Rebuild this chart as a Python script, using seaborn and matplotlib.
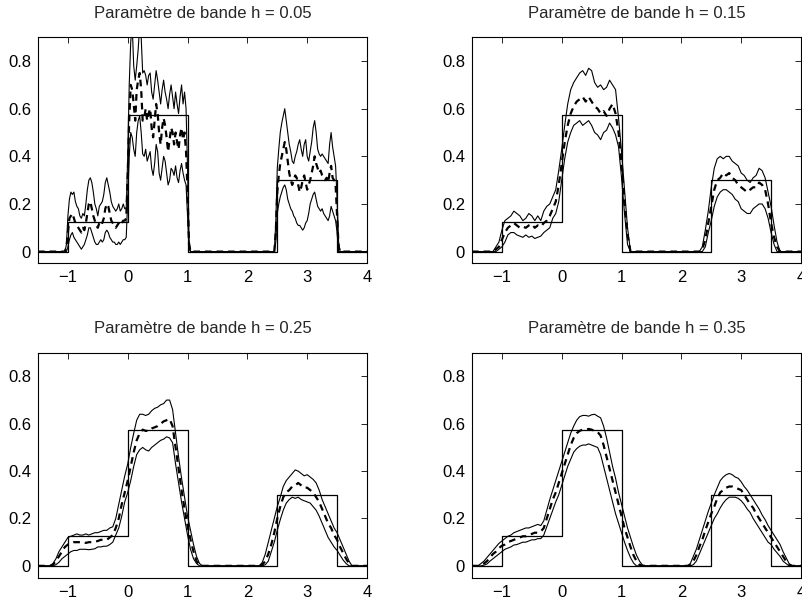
import numpy as np
import matplotlib
matplotlib.use("Agg")
import matplotlib.pyplot as plt
import seaborn as sns

# ---------------------------------------------------------------
# True density (piecewise constant)
# ---------------------------------------------------------------
edges = [-1.5, -1.0, 0.0, 1.0, 2.5, 3.5, 4.0]
levels = [0.0, 0.125, 0.575, 0.0, 0.3, 0.0]

bandwidths = [0.05, 0.15, 0.25, 0.35]
x_ticks = [-1, 0, 1, 2, 3, 4]
y_ticks = [0, 0.2, 0.4, 0.6, 0.8]
y_tick_labels = ["0", "0.2", "0.4", "0.6", "0.8"]

# ---------------------------------------------------------------
# Kernel estimates: centre curve (est), upper / lower bands (up / lo)
# on two support segments a and b, each sampled on a regular grid.
# ---------------------------------------------------------------
# h = 0.05  (grid step 0.025)
start_005_a, start_005_b, step_005 = -1.05, 2.45, 0.025
est_005_a = [0, 0.02, 0.08, 0.14, 0.15, 0.16, 0.14, 0.12, 0.11, 0.10,
             0.09, 0.08, 0.10, 0.09, 0.12, 0.16, 0.20, 0.21, 0.18, 0.15,
             0.13, 0.11, 0.10, 0.12, 0.13, 0.12, 0.14, 0.18, 0.20, 0.19,
             0.16, 0.13, 0.12, 0.11, 0.10, 0.11, 0.12, 0.11, 0.12, 0.13,
             0.13, 0.14, 0.32, 0.55, 0.70, 0.68, 0.62, 0.55, 0.68, 0.72,
             0.75, 0.68, 0.55, 0.56, 0.60, 0.55, 0.58, 0.60, 0.52, 0.48,
             0.55, 0.62, 0.58, 0.50, 0.45, 0.52, 0.56, 0.53, 0.48, 0.42,
             0.47, 0.52, 0.50, 0.45, 0.50, 0.46, 0.43, 0.49, 0.52, 0.47,
             0.50, 0.42, 0.25, 0.03, 0]
up_005_a = [0, 0.03, 0.15, 0.22, 0.25, 0.24, 0.25, 0.21, 0.19, 0.18,
            0.15, 0.14, 0.16, 0.15, 0.20, 0.26, 0.30, 0.31, 0.29, 0.25,
            0.20, 0.18, 0.15, 0.19, 0.20, 0.21, 0.24, 0.29, 0.31, 0.28,
            0.25, 0.21, 0.19, 0.18, 0.17, 0.18, 0.20, 0.17, 0.18, 0.20,
            0.18, 0.18, 0.40, 0.70, 0.88, 0.95, 0.78, 0.72, 0.78, 0.85,
            0.95, 0.90, 0.75, 0.76, 0.74, 0.70, 0.74, 0.75, 0.67, 0.64,
            0.70, 0.76, 0.72, 0.67, 0.62, 0.68, 0.72, 0.67, 0.64, 0.60,
            0.66, 0.70, 0.65, 0.60, 0.67, 0.62, 0.58, 0.65, 0.70, 0.62,
            0.67, 0.60, 0.35, 0.05, 0]
lo_005_a = [0, 0.0, 0.02, 0.05, 0.07, 0.08, 0.06, 0.05, 0.04, 0.03,
            0.02, 0.01, 0.02, 0.03, 0.05, 0.07, 0.10, 0.10, 0.08, 0.06,
            0.04, 0.03, 0.03, 0.04, 0.05, 0.04, 0.05, 0.08, 0.09, 0.08,
            0.06, 0.05, 0.04, 0.04, 0.03, 0.03, 0.04, 0.03, 0.04, 0.05,
            0.05, 0.06, 0.22, 0.40, 0.50, 0.48, 0.43, 0.40, 0.50, 0.55,
            0.57, 0.50, 0.41, 0.40, 0.43, 0.38, 0.40, 0.42, 0.35, 0.32,
            0.37, 0.45, 0.42, 0.33, 0.30, 0.35, 0.40, 0.38, 0.33, 0.28,
            0.30, 0.35, 0.34, 0.32, 0.36, 0.31, 0.29, 0.34, 0.37, 0.33,
            0.30, 0.28, 0.15, 0.01, 0]
est_005_b = [0, 0.08, 0.25, 0.32, 0.37, 0.40, 0.43, 0.46, 0.43, 0.38,
             0.33, 0.30, 0.28, 0.30, 0.32, 0.31, 0.28, 0.25, 0.27, 0.30,
             0.32, 0.29, 0.26, 0.28, 0.30, 0.33, 0.36, 0.40, 0.37, 0.35,
             0.33, 0.34, 0.32, 0.31, 0.30, 0.31, 0.29, 0.33, 0.36, 0.31,
             0.30, 0.28, 0.15, 0.02, 0]
up_005_b = [0, 0.12, 0.35, 0.43, 0.50, 0.54, 0.57, 0.60, 0.55, 0.50,
            0.45, 0.42, 0.38, 0.37, 0.40, 0.42, 0.45, 0.47, 0.43, 0.40,
            0.45, 0.47, 0.40, 0.38, 0.42, 0.46, 0.52, 0.55, 0.50, 0.43,
            0.41, 0.40, 0.41, 0.40, 0.39, 0.38, 0.37, 0.45, 0.50, 0.44,
            0.40, 0.36, 0.22, 0.04, 0]
lo_005_b = [0, 0.04, 0.16, 0.20, 0.23, 0.25, 0.27, 0.28, 0.26, 0.22,
            0.20, 0.18, 0.17, 0.15, 0.14, 0.12, 0.11, 0.11, 0.10, 0.09,
            0.10, 0.12, 0.13, 0.16, 0.20, 0.22, 0.24, 0.25, 0.22, 0.19,
            0.18, 0.17, 0.18, 0.16, 0.15, 0.14, 0.13, 0.15, 0.19, 0.17,
            0.15, 0.13, 0.08, 0.0, 0]

# h = 0.15  (grid step 0.05)
start_015_a, start_015_b, step_015 = -1.15, 2.30, 0.05
est_015_a = [0, 0.01, 0.02, 0.05, 0.08, 0.10, 0.11, 0.12, 0.11, 0.10,
             0.105, 0.10, 0.11, 0.115, 0.10, 0.11, 0.105, 0.12, 0.13, 0.15,
             0.18, 0.21, 0.28, 0.37, 0.46, 0.53, 0.58, 0.61, 0.63, 0.64,
             0.65, 0.63, 0.65, 0.63, 0.61, 0.60, 0.58, 0.59, 0.57, 0.60,
             0.62, 0.58, 0.50, 0.37, 0.21, 0.07, 0]
up_015_a = [0, 0.02, 0.04, 0.09, 0.13, 0.14, 0.15, 0.17, 0.16, 0.15,
            0.13, 0.14, 0.16, 0.15, 0.13, 0.15, 0.13, 0.17, 0.19, 0.20,
            0.23, 0.26, 0.34, 0.43, 0.53, 0.62, 0.68, 0.71, 0.73, 0.75,
            0.76, 0.74, 0.77, 0.76, 0.71, 0.69, 0.70, 0.68, 0.69, 0.72,
            0.70, 0.68, 0.56, 0.42, 0.26, 0.10, 0]
lo_015_a = [0, 0.0, 0.01, 0.02, 0.04, 0.07, 0.08, 0.08, 0.07, 0.065,
            0.06, 0.07, 0.06, 0.065, 0.055, 0.06, 0.065, 0.08, 0.09, 0.10,
            0.14, 0.16, 0.21, 0.30, 0.39, 0.46, 0.50, 0.53, 0.54, 0.55,
            0.53, 0.54, 0.55, 0.53, 0.50, 0.49, 0.47, 0.50, 0.51, 0.54,
            0.52, 0.49, 0.44, 0.31, 0.16, 0.03, 0]
est_015_b = [0, 0.01, 0.05, 0.12, 0.19, 0.26, 0.30, 0.31, 0.33, 0.32,
             0.33, 0.31, 0.30, 0.28, 0.27, 0.26, 0.25, 0.26, 0.27, 0.27,
             0.29, 0.28, 0.26, 0.20, 0.12, 0.06, 0.02, 0]
up_015_b = [0, 0.02, 0.09, 0.17, 0.27, 0.35, 0.39, 0.40, 0.39, 0.40,
            0.40, 0.38, 0.37, 0.36, 0.33, 0.32, 0.30, 0.29, 0.31, 0.32,
            0.35, 0.34, 0.31, 0.25, 0.19, 0.11, 0.04, 0]
lo_015_b = [0, 0, 0.02, 0.08, 0.13, 0.19, 0.23, 0.25, 0.26, 0.26,
            0.25, 0.24, 0.22, 0.21, 0.18, 0.17, 0.16, 0.16, 0.18, 0.19,
            0.20, 0.20, 0.18, 0.14, 0.08, 0.03, 0, 0]

# h = 0.25  (grid step 0.05)
start_025_a, start_025_b, step_025 = -1.30, 2.20, 0.05
est_025_a = [0, 0.005, 0.02, 0.04, 0.06, 0.08, 0.09, 0.095, 0.10, 0.10,
             0.10, 0.10, 0.097, 0.10, 0.10, 0.102, 0.105, 0.11, 0.11, 0.11,
             0.12, 0.13, 0.16, 0.20, 0.26, 0.31, 0.36, 0.42, 0.48, 0.53,
             0.56, 0.575, 0.57, 0.57, 0.58, 0.585, 0.59, 0.60, 0.61, 0.615,
             0.62, 0.59, 0.50, 0.41, 0.32, 0.24, 0.17, 0.11, 0.06, 0.02,
             0.003, 0]
up_025_a = [0, 0.01, 0.03, 0.06, 0.08, 0.10, 0.12, 0.125, 0.13, 0.135,
            0.13, 0.13, 0.135, 0.13, 0.135, 0.14, 0.14, 0.145, 0.15, 0.15,
            0.16, 0.165, 0.20, 0.26, 0.32, 0.38, 0.43, 0.50, 0.56, 0.615,
            0.64, 0.64, 0.635, 0.64, 0.655, 0.665, 0.67, 0.68, 0.685, 0.70,
            0.70, 0.66, 0.56, 0.46, 0.37, 0.29, 0.21, 0.15, 0.09, 0.04,
            0.01, 0]
lo_025_a = [0, 0, 0.005, 0.015, 0.03, 0.04, 0.05, 0.06, 0.065, 0.065,
            0.07, 0.07, 0.07, 0.068, 0.07, 0.072, 0.08, 0.08, 0.083, 0.083,
            0.09, 0.10, 0.13, 0.16, 0.21, 0.27, 0.31, 0.36, 0.42, 0.47,
            0.49, 0.50, 0.49, 0.485, 0.50, 0.51, 0.52, 0.53, 0.535, 0.545,
            0.54, 0.52, 0.43, 0.35, 0.27, 0.20, 0.13, 0.07, 0.03, 0.01,
            0, 0]
est_025_b = [0, 0.005, 0.02, 0.05, 0.09, 0.14, 0.20, 0.25, 0.29, 0.31,
             0.32, 0.335, 0.34, 0.35, 0.34, 0.33, 0.33, 0.32, 0.31, 0.29,
             0.27, 0.24, 0.21, 0.18, 0.16, 0.13, 0.11, 0.08, 0.055, 0.03,
             0.01, 0]
up_025_b = [0, 0.015, 0.05, 0.10, 0.15, 0.20, 0.25, 0.29, 0.335, 0.36,
            0.375, 0.39, 0.405, 0.40, 0.39, 0.38, 0.385, 0.375, 0.365, 0.35,
            0.32, 0.28, 0.25, 0.22, 0.19, 0.16, 0.14, 0.11, 0.08, 0.05,
            0.02, 0]
lo_025_b = [0, 0, 0.005, 0.02, 0.06, 0.10, 0.15, 0.195, 0.235, 0.265,
            0.28, 0.29, 0.285, 0.29, 0.28, 0.275, 0.27, 0.265, 0.25, 0.235,
            0.21, 0.18, 0.15, 0.12, 0.10, 0.08, 0.065, 0.045, 0.025, 0.01,
            0, 0]

# h = 0.35  (grid step 0.05)
start_035_a, start_035_b, step_035 = -1.40, 2.10, 0.05
est_035_a = [0, 0.003, 0.01, 0.02, 0.035, 0.05, 0.06, 0.075, 0.085, 0.09,
             0.10, 0.105, 0.11, 0.115, 0.12, 0.125, 0.125, 0.13, 0.135, 0.14,
             0.14, 0.145, 0.16, 0.20, 0.24, 0.28, 0.31, 0.35, 0.39, 0.43,
             0.47, 0.51, 0.54, 0.56, 0.57, 0.575, 0.575, 0.578, 0.575, 0.57,
             0.565, 0.55, 0.51, 0.46, 0.41, 0.36, 0.31, 0.26, 0.21, 0.16,
             0.12, 0.08, 0.045, 0.02, 0.005, 0, 0]
up_035_a = [0, 0.01, 0.02, 0.035, 0.05, 0.065, 0.08, 0.095, 0.105, 0.115,
            0.125, 0.13, 0.14, 0.145, 0.15, 0.155, 0.16, 0.16, 0.165, 0.17,
            0.175, 0.17, 0.19, 0.235, 0.28, 0.32, 0.36, 0.40, 0.44, 0.48,
            0.52, 0.56, 0.59, 0.615, 0.63, 0.635, 0.635, 0.632, 0.638, 0.64,
            0.632, 0.625, 0.59, 0.54, 0.48, 0.42, 0.37, 0.31, 0.26, 0.21,
            0.16, 0.12, 0.08, 0.045, 0.02, 0.003, 0]
lo_035_a = [0, 0, 0.003, 0.008, 0.02, 0.03, 0.04, 0.05, 0.06, 0.07,
            0.075, 0.08, 0.088, 0.09, 0.095, 0.10, 0.10, 0.105, 0.11, 0.11,
            0.115, 0.115, 0.13, 0.165, 0.20, 0.235, 0.27, 0.30, 0.34, 0.38,
            0.42, 0.45, 0.48, 0.495, 0.505, 0.51, 0.51, 0.515, 0.51, 0.505,
            0.50, 0.47, 0.42, 0.37, 0.32, 0.27, 0.22, 0.18, 0.14, 0.10,
            0.065, 0.035, 0.012, 0, 0, 0, 0]
est_035_b = [0, 0.003, 0.02, 0.045, 0.08, 0.11, 0.15, 0.185, 0.22, 0.25,
             0.285, 0.31, 0.32, 0.33, 0.335, 0.335, 0.33, 0.325, 0.32, 0.30,
             0.28, 0.26, 0.245, 0.22, 0.20, 0.18, 0.16, 0.14, 0.12, 0.10,
             0.08, 0.06, 0.04, 0.02, 0.005, 0]
up_035_b = [0, 0.01, 0.04, 0.07, 0.11, 0.15, 0.19, 0.23, 0.265, 0.30,
            0.33, 0.36, 0.375, 0.385, 0.39, 0.385, 0.375, 0.37, 0.355, 0.335,
            0.32, 0.30, 0.28, 0.26, 0.24, 0.215, 0.195, 0.17, 0.15, 0.13,
            0.11, 0.09, 0.06, 0.035, 0.01, 0]
lo_035_b = [0, 0, 0.005, 0.02, 0.05, 0.08, 0.11, 0.14, 0.17, 0.20,
            0.22, 0.245, 0.265, 0.28, 0.29, 0.29, 0.29, 0.285, 0.275, 0.26,
            0.24, 0.225, 0.20, 0.18, 0.16, 0.14, 0.12, 0.10, 0.09, 0.07,
            0.055, 0.04, 0.02, 0.01, 0, 0]

panels = [
    (start_005_a, start_005_b, step_005,
     (est_005_a, est_005_b), (up_005_a, up_005_b), (lo_005_a, lo_005_b)),
    (start_015_a, start_015_b, step_015,
     (est_015_a, est_015_b), (up_015_a, up_015_b), (lo_015_a, lo_015_b)),
    (start_025_a, start_025_b, step_025,
     (est_025_a, est_025_b), (up_025_a, up_025_b), (lo_025_a, lo_025_b)),
    (start_035_a, start_035_b, step_035,
     (est_035_a, est_035_b), (up_035_a, up_035_b), (lo_035_a, lo_035_b)),
]


def full_curve(start_a, start_b, step, seg_a, seg_b):
    """Join the two support segments, padded with zero out to the axis range."""
    xa = start_a + step * np.arange(len(seg_a))
    xb = start_b + step * np.arange(len(seg_b))
    x = np.concatenate([[edges[0]], xa, xb, [edges[-1]]])
    y = np.concatenate([[0.0], seg_a, seg_b, [0.0]])
    return x, y


# step outline of the true density
step_x = np.repeat(edges, 2)[1:-1]
step_y = np.repeat(levels, 2)

sns.set_theme(style="white")
plt.rcParams["font.family"] = ["Liberation Sans", "DejaVu Sans"]
plt.rcParams["axes.unicode_minus"] = True

fig = plt.figure(figsize=(8.02, 6.05), dpi=100)
W, H = 802.0, 605.0
positions = [
    (38, 37.3, 329, 226.2),
    (472, 37.3, 329, 226.2),
    (38, 352.7, 329, 225.0),
    (472, 352.7, 329, 225.0),
]

for (left, top, w, hgt), h, (sa, sb, st, est, up, lo) in zip(positions, bandwidths, panels):
    ax = fig.add_axes([left / W, 1 - (top + hgt) / H, w / W, hgt / H])

    sns.lineplot(x=step_x, y=step_y, ax=ax, color="black", linewidth=0.9,
                 estimator=None, sort=False)
    for band in (up, lo):
        bx, by = full_curve(sa, sb, st, band[0], band[1])
        sns.lineplot(x=bx, y=by, ax=ax, color="black", linewidth=0.8,
                     estimator=None, sort=False)
    ex, ey = full_curve(sa, sb, st, est[0], est[1])
    sns.lineplot(x=ex, y=ey, ax=ax, color="black", linewidth=1.6,
                 estimator=None, sort=False)
    ax.lines[-1].set_dashes([3, 2.2])

    ax.set_xlim(edges[0], edges[-1])
    ax.set_ylim(-0.05, 0.9)
    ax.set_xticks(x_ticks)
    ax.set_yticks(y_ticks)
    ax.set_yticklabels(y_tick_labels)
    ax.tick_params(direction="in", top=True, right=True, length=4, width=0.6,
                   labelsize=12, pad=5, colors="black")
    for sp in ax.spines.values():
        sp.set_color("black")
        sp.set_linewidth(0.8)
    ax.set_title(f"Paramètre de bande h = {h:.2f}", fontsize=12, pad=14)

fig.savefig("out.png", dpi=100)
